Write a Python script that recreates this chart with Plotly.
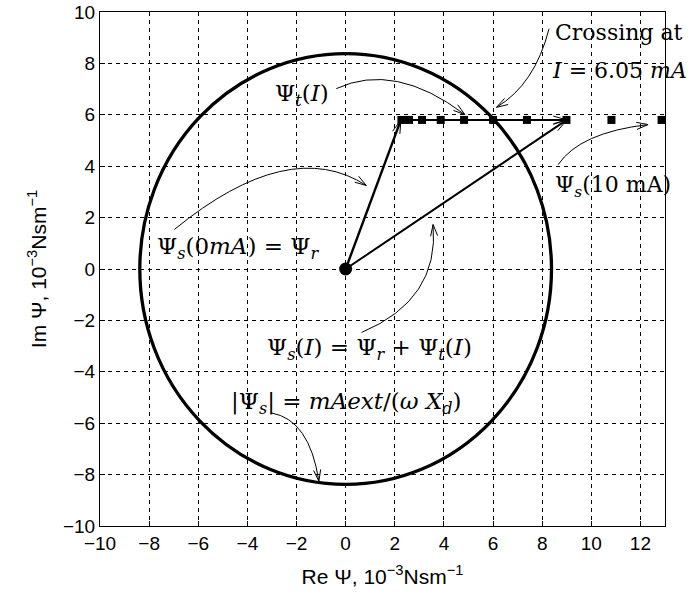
import numpy as np
import plotly.graph_objects as go

# ---------------- data ----------------
x_ticks = list(range(-10, 13, 2))
y_ticks = list(range(-10, 11, 2))
x_range = [-10, 13]
y_range = [-10, 10]

circle_radius = 8.38                 # |Psi_s|
origin = (0.0, 0.0)
psi_r = (2.25, 5.8)                  # Psi_r tip
psi_s_I = (9.0, 5.8)                 # Psi_s(I) tip

square_x = [2.27, 2.58, 3.11, 3.87, 4.82, 6.0, 7.38, 8.99, 10.82, 12.86]
square_y = [5.8, 5.8, 5.8, 5.8, 5.8, 5.8, 5.8, 5.8, 5.8, 5.8]

# text labels
label_text = [
    "Crossing at",
    "<i>I</i> = 6.05 <i>mA</i>",
    "Ψ<sub><i>t</i></sub>(<i>I</i>)",
    "Ψ<sub><i>s</i></sub>(10 mA)",
    "Ψ<sub><i>s</i></sub>(0<i>mA</i>) = Ψ<sub><i>r</i></sub>",
    "Ψ<sub><i>s</i></sub>(<i>I</i>) = Ψ<sub><i>r</i></sub> + Ψ<sub><i>t</i></sub>(<i>I</i>)",
    "|Ψ<sub><i>s</i></sub>| = <i>mAext</i>/(<i>ω X<sub>d</sub></i>)",
]
label_x = [8.43, 8.31, -1.77, 8.43, -4.38, 0.98, 0.02]
label_y = [9.2, 7.72, 6.79, 3.2, 0.82, -3.11, -5.21]
label_anchor = ["left", "left", "center", "left", "center", "center", "center"]
label_size = [22, 22, 23, 22, 23, 23, 23]

# curved arrows: start, control, tip
curve_start = [(8.28, 9.35), (-0.38, 7.02), (8.65, 4.06), (-6.97, 1.54), (0.65, -2.47), (-3.03, -5.60)]
curve_ctrl = [(7.70, 7.18), (2.00, 8.07), (9.53, 5.31), (-2.30, 5.19), (3.83, -1.19), (-1.47, -5.86)]
curve_tip = [(6.14, 6.29), (4.85, 6.01), (12.31, 5.62), (0.84, 3.25), (3.56, 1.73), (-1.09, -8.26)]

# ---------------- layout geometry ----------------
W, H = 694, 595
M = dict(l=100, r=29, t=12, b=69)
sx = (W - M["l"] - M["r"]) / (x_range[1] - x_range[0])
sy = (H - M["t"] - M["b"]) / (y_range[1] - y_range[0])


def head(tip, frm, length=11.0, half=0.33):
    dx = (tip[0] - frm[0]) * sx
    dy = (tip[1] - frm[1]) * sy
    n = np.hypot(dx, dy)
    ux, uy = dx / n, dy / n
    pts = []
    for s in (1, -1):
        c, si = np.cos(s * half), np.sin(s * half)
        bx = -(ux * c - uy * si) * length
        by = -(ux * si + uy * c) * length
        pts.append((tip[0] + bx / sx, tip[1] + by / sy))
    return (f"M {pts[0][0]:.4f},{pts[0][1]:.4f} L {tip[0]:.4f},{tip[1]:.4f} "
            f"L {pts[1][0]:.4f},{pts[1][1]:.4f}")


fig = go.Figure()

# vectors
vectors = [(origin, psi_r, 2.4), (psi_r, psi_s_I, 2.0), (origin, psi_s_I, 2.0)]
for a, b, w in vectors:
    fig.add_trace(go.Scatter(x=[a[0], b[0]], y=[a[1], b[1]], mode="lines",
                             line=dict(color="black", width=w),
                             showlegend=False, hoverinfo="skip"))

# squares
fig.add_trace(go.Scatter(x=square_x, y=square_y, mode="markers",
                         marker=dict(symbol="square", size=8, color="black"),
                         cliponaxis=False, showlegend=False))

# origin dot
fig.add_trace(go.Scatter(x=[origin[0]], y=[origin[1]], mode="markers",
                         marker=dict(symbol="circle", size=13, color="black"),
                         showlegend=False))

shapes = []
# circle
shapes.append(dict(type="circle", xref="x", yref="y",
                   x0=-circle_radius, y0=-circle_radius,
                   x1=circle_radius, y1=circle_radius,
                   line=dict(color="black", width=3.3)))
# vector arrowheads
for a, b, w in vectors:
    shapes.append(dict(type="path", xref="x", yref="y", path=head(b, a, 14, 0.28),
                       line=dict(color="black", width=1)))
# curved arrows
for s, c, t in zip(curve_start, curve_ctrl, curve_tip):
    shapes.append(dict(type="path", xref="x", yref="y",
                       path=f"M {s[0]},{s[1]} Q {c[0]},{c[1]} {t[0]},{t[1]}",
                       line=dict(color="black", width=1)))
    shapes.append(dict(type="path", xref="x", yref="y", path=head(t, c, 12, 0.3),
                       line=dict(color="black", width=1)))

annotations = []
for txt, x, y, anc, fs in zip(label_text, label_x, label_y, label_anchor, label_size):
    annotations.append(dict(text=txt, x=x, y=y, xref="x", yref="y",
                            xanchor=anc, yanchor="middle", showarrow=False,
                            font=dict(family="DejaVu Serif", size=fs, color="black")))

axis_common = dict(showline=True, linecolor="black", linewidth=1, mirror=True,
                   ticks="inside", ticklen=5, tickcolor="black", automargin=False,
                   showgrid=True, gridcolor="black", gridwidth=1, griddash="4px,4px",
                   zeroline=False,
                   tickfont=dict(family="Liberation Sans", size=19, color="black"),
                   title_font=dict(family="Liberation Sans", size=21, color="black"))

fig.update_layout(
    width=W, height=H, autosize=False,
    margin=M,
    paper_bgcolor="white", plot_bgcolor="white",
    shapes=shapes, annotations=annotations,
    xaxis=dict(range=x_range, tickvals=x_ticks, **axis_common,
               title=dict(text="Re Ψ, 10<sup>−3</sup>Nsm<sup>−1</sup>", standoff=16)),
    yaxis=dict(range=y_range, tickvals=y_ticks, **axis_common,
               title=dict(text="Im Ψ, 10<sup>−3</sup>Nsm<sup>−1</sup>", standoff=10)),
)

fig.write_html("out.html",
               config={"displayModeBar": False},
               post_script="document.body.style.margin='0';document.body.style.overflow='hidden';")
